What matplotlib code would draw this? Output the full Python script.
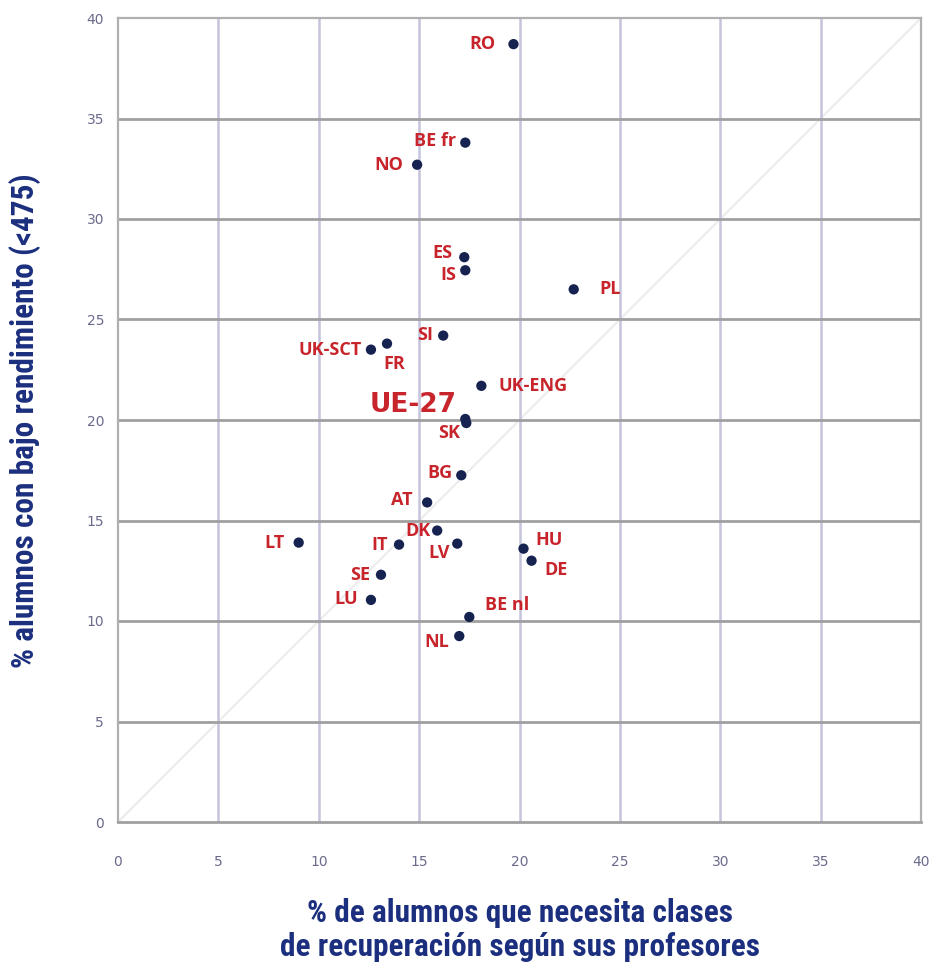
import matplotlib
matplotlib.use("Agg")
import matplotlib.pyplot as plt
from matplotlib import font_manager as fm

countries = ["RO", "BE fr", "NO", "ES", "IS", "PL", "SI", "FR", "UK-SCT", "UK-ENG",
             "UE-27", "SK", "BG", "AT", "DK", "LT", "IT", "LV", "HU", "DE",
             "SE", "LU", "BE nl", "NL"]
recuperacion = [19.7, 17.3, 14.9, 17.25, 17.3, 22.7, 16.2, 13.4, 12.6, 18.1,
                17.3, 17.35, 17.1, 15.4, 15.9, 9.0, 14.0, 16.9, 20.2, 20.6,
                13.1, 12.6, 17.5, 17.0]
bajo_rend = [38.7, 33.8, 32.7, 28.1, 27.45, 26.5, 24.2, 23.8, 23.5, 21.7,
             20.05, 19.85, 17.25, 15.9, 14.5, 13.9, 13.8, 13.85, 13.6, 13.0,
             12.3, 11.05, 10.2, 9.25]
# label offsets (pixels) and alignment
label_pos = {
    "RO": (-18, 0, "right", "center"),
    "BE fr": (-9, 2, "right", "center"),
    "NO": (-14, 0, "right", "center"),
    "ES": (-12, 4, "right", "center"),
    "IS": (-9, -5, "right", "center"),
    "PL": (26, 0, "left", "center"),
    "SI": (-10, 1, "right", "center"),
    "FR": (-4, -20, "left", "center"),
    "UK-SCT": (-9, 0, "right", "center"),
    "UK-ENG": (17, 0, "left", "center"),
    "UE-27": (-9, 14, "right", "center"),
    "SK": (-6, -10, "right", "center"),
    "BG": (-9, 2, "right", "center"),
    "AT": (-15, 2, "right", "center"),
    "DK": (-7, 0, "right", "center"),
    "LT": (-14, 0, "right", "center"),
    "IT": (-11, 0, "right", "center"),
    "LV": (-7, -9, "right", "center"),
    "HU": (12, 9, "left", "center"),
    "DE": (13, -9, "left", "center"),
    "SE": (-11, 0, "right", "center"),
    "LU": (-13, 1, "right", "center"),
    "BE nl": (16, 12, "left", "center"),
    "NL": (-10, -6, "right", "center"),
}
x_ticks = [0, 5, 10, 15, 20, 25, 30, 35, 40]
y_ticks = [0, 5, 10, 15, 20, 25, 30, 35, 40]

names = {f.name for f in fm.fontManager.ttflist}
cond = [n for n in ["Liberation Sans Narrow", "Roboto Condensed", "Open Sans Condensed"] if n in names]
label_font = ["Open Sans", "DejaVu Sans"]
title_font = cond + ["Roboto", "DejaVu Sans"]

red = "#c8242c"
navy = "#16224f"
title_col = "#1b2f7e"

fig = plt.figure(figsize=(9.33, 9.65), dpi=100)
ax = fig.add_axes([118/933, 1-822/965, (921-118)/933, (822-18)/965])
ax.set_xlim(0, 40)
ax.set_ylim(0, 40)

ax.plot([0, 40], [0, 40], color="#ececec", lw=1.5, zorder=1)
for v in x_ticks[1:-1]:
    ax.axvline(v, color="#c4c4dc", lw=1.8, zorder=1)
for v in y_ticks[1:-1]:
    ax.axhline(v, color="#a0a0a0", lw=2.0, zorder=1)

for sp in ax.spines.values():
    sp.set_color("#b0b0b0")
    sp.set_linewidth(1.6)
ax.spines["bottom"].set_color("#a0a0a0")
ax.spines["bottom"].set_linewidth(2.0)

ax.scatter(recuperacion, bajo_rend, s=55, color=navy, zorder=3, edgecolors="none")

for c, xv, yv in zip(countries, recuperacion, bajo_rend):
    dx, dy, ha, va = label_pos[c]
    if c == "UE-27":
        ax.annotate(c, (xv, yv), xytext=(dx*0.72, dy*0.72), textcoords="offset points",
                    ha=ha, va=va, color=red, fontsize=19, fontweight="bold",
                    family=["DejaVu Sans"], zorder=4)
    else:
        ax.annotate(c, (xv, yv), xytext=(dx*0.72, dy*0.72), textcoords="offset points",
                    ha=ha, va=va, color=red, fontsize=13, fontweight="bold",
                    family=label_font, zorder=4)

ax.set_xticks(x_ticks)
ax.set_yticks(y_ticks)
ax.tick_params(length=0, labelsize=10, labelcolor="#6a6a8c")
ax.tick_params(axis="x", pad=24)
ax.tick_params(axis="y", pad=10)

fig.text(25/933, 1-421/965, "% alumnos con bajo rendimiento (<475)", rotation=90,
         ha="center", va="center", color=title_col, fontsize=22.5, fontweight="bold",
         family=title_font)
fig.text(520/933, 1-930/965, "% de alumnos que necesita clases\nde recuperación según sus profesores",
         ha="center", va="center", color=title_col, fontsize=22.5, fontweight="bold",
         family=title_font, linespacing=1.15)

fig.savefig("out.png", dpi=100)
